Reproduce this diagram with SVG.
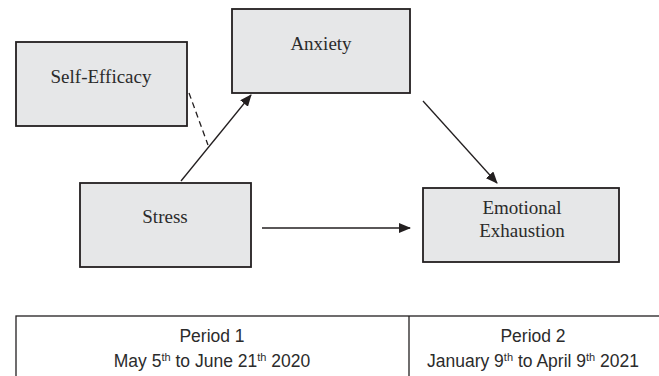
<svg xmlns="http://www.w3.org/2000/svg" width="659" height="376" viewBox="0 0 659 376">
<style>
.box{fill:#e6e7e8;stroke:#231f20;stroke-width:1.8}
.lbl{font-family:"Liberation Serif","Times New Roman",serif;font-size:19px;fill:#2b2b2b;text-anchor:middle}
.tbl{font-family:"Liberation Sans",Arial,sans-serif;font-size:17.5px;fill:#2b2b2b;text-anchor:middle}
.edge{stroke:#231f20;stroke-width:1.3;fill:none}
.sup{font-size:11px}
</style>
<defs>
<marker id="ah" markerWidth="12" markerHeight="10" refX="11" refY="5" orient="auto" markerUnits="userSpaceOnUse">
<path d="M0,0 L12,5 L0,10 Z" fill="#231f20"/>
</marker>
</defs>
<rect width="659" height="376" fill="#ffffff"/>
<g id="connectors">
<line class="edge" x1="181" y1="181" x2="251" y2="95" marker-end="url(#ah)"/>
<line class="edge" x1="189" y1="93" x2="208" y2="145" stroke-dasharray="6,4"/>
<line class="edge" x1="423" y1="101" x2="497" y2="183" marker-end="url(#ah)"/>
<line class="edge" x1="262" y1="228" x2="410" y2="228" marker-end="url(#ah)"/>
</g>
<g id="self-efficacy">
<rect class="box" x="16" y="42" width="171" height="84"/>
<text class="lbl" x="101" y="83">Self-Efficacy</text>
</g>
<g id="anxiety">
<rect class="box" x="232" y="9" width="178" height="84"/>
<text class="lbl" x="321" y="50">Anxiety</text>
</g>
<g id="stress">
<rect class="box" x="80" y="183" width="171" height="84"/>
<text class="lbl" x="165" y="223">Stress</text>
</g>
<g id="emotional-exhaustion">
<rect class="box" x="423" y="188" width="196" height="74"/>
<text class="lbl" x="522" y="214">Emotional</text>
<text class="lbl" x="522" y="237">Exhaustion</text>
</g>
<g id="timeline">
<rect x="16" y="316" width="660" height="80" fill="#ffffff" stroke="#231f20" stroke-width="1.3"/>
<line x1="409" y1="316" x2="409" y2="396" stroke="#231f20" stroke-width="1.3"/>
<text class="tbl" x="212" y="342">Period 1</text>
<text class="tbl" x="212" y="367">May 5<tspan class="sup" dy="-6">th</tspan><tspan dy="6"> to June 21</tspan><tspan class="sup" dy="-6">th</tspan><tspan dy="6"> 2020</tspan></text>
<text class="tbl" x="533" y="342">Period 2</text>
<text class="tbl" x="533" y="367">January 9<tspan class="sup" dy="-6">th</tspan><tspan dy="6"> to April 9</tspan><tspan class="sup" dy="-6">th</tspan><tspan dy="6"> 2021</tspan></text>
</g>
</svg>
